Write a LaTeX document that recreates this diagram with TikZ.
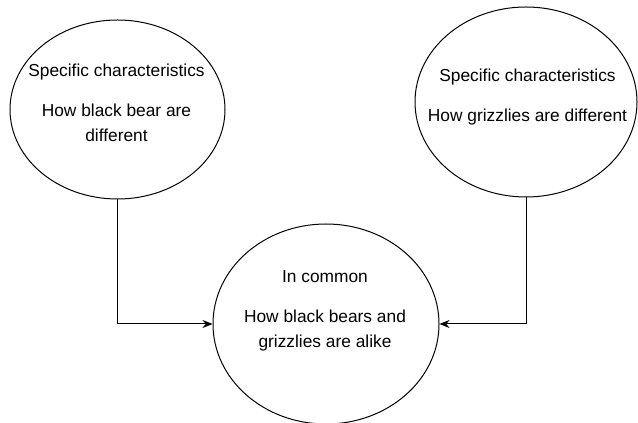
\documentclass[tikz,border=0pt]{standalone}
\usepackage{fontspec}
\setmainfont{Liberation Sans}
\usetikzlibrary{shapes.geometric,arrows.meta}
\begin{document}
\begin{tikzpicture}[x=0.75pt,y=-0.75pt,
  bubble/.style={draw, ellipse, line width=0.75pt, inner sep=0pt},
  lbl/.style={font=\fontsize{13}{18.75}\selectfont, align=center, inner sep=0pt},
  conn/.style={line width=0.75pt, -{Stealth[length=7.5pt,width=6pt]}}]
\useasboundingbox (0,0) rectangle (638,423);
\node[bubble, minimum width=161.25pt, minimum height=134.25pt] (bb) at (117.5,109.5) {};
\node[bubble, minimum width=166.5pt, minimum height=142.5pt] (gz) at (526,102) {};
\node[bubble, minimum width=169.5pt, minimum height=150pt] (com) at (326,324) {};
\node[lbl] (bbt) at (116.5,102.5) {Specific characteristics\\[11.25pt] How black bear are\\ different};
\node[lbl] (gzt) at (527.5,97) {Specific characteristics\\[11.25pt] How grizzlies are different};
\node[lbl] (comt) at (325,311) {In common\\[11.25pt] How black bears and\\ grizzlies are alike};
\draw[conn] (bb.south) |- (com.west);
\draw[conn] (gz.south) |- (com.east);
\end{tikzpicture}
\end{document}
